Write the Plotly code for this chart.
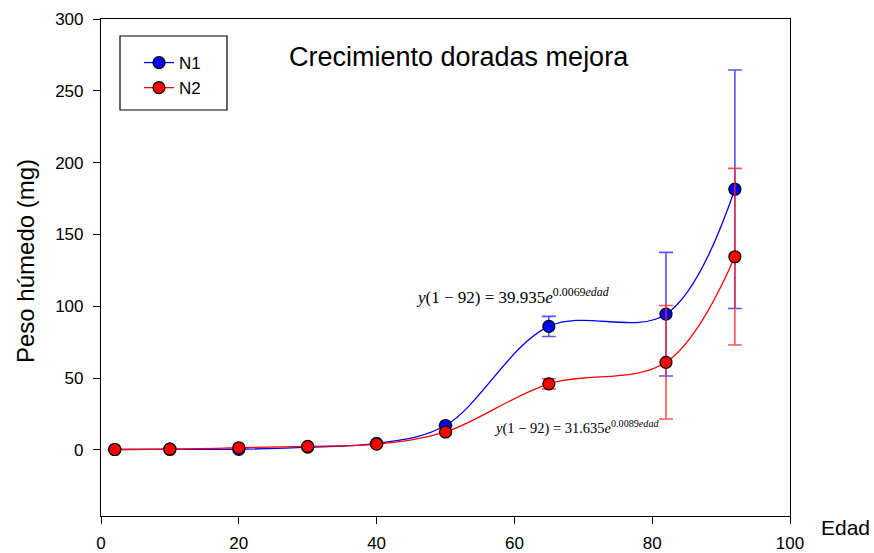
import plotly.graph_objects as go

edad = [2, 10, 20, 30, 40, 50, 65, 82, 92]
n1 = [0.3, 0.5, 0.4, 2.0, 4.5, 17, 86, 94.5, 181.5]
n1_err = [0, 0, 0, 0, 0, 0, 7, 43, 83]
n2 = [0.3, 0.5, 1.5, 2.5, 4.0, 12.5, 46, 61, 134.5]
n2_err = [0, 0, 0, 0, 0, 0, 3.5, 39.5, 61.5]
x_ticks = [0, 20, 40, 60, 80, 100]
y_ticks = [0, 50, 100, 150, 200, 250, 300]

fig = go.Figure()
fig.add_trace(go.Scatter(
    x=edad, y=n1, name="N1", mode="lines+markers",
    line=dict(color="blue", width=1.3, shape="spline", smoothing=1.0),
    marker=dict(color="blue", size=12, line=dict(color="black", width=1.2)),
    error_y=dict(type="data", array=n1_err, visible=True,
                 color="rgba(40,40,255,0.8)", thickness=1.6, width=7),
))
fig.add_trace(go.Scatter(
    x=edad, y=n2, name="N2", mode="lines+markers",
    line=dict(color="red", width=1.3, shape="spline", smoothing=1.0),
    marker=dict(color="red", size=12, line=dict(color="black", width=1.2)),
    error_y=dict(type="data", array=n2_err, visible=True,
                 color="rgba(255,40,40,0.8)", thickness=1.6, width=7),
))

axis_common = dict(showline=True, linecolor="black", linewidth=1.2, mirror=True,
                   ticks="outside", ticklen=7, tickcolor="black", showgrid=False,
                   zeroline=False, automargin=False,
                   tickfont=dict(family="Liberation Sans, Arial", size=17, color="black"))
fig.update_xaxes(range=[0, 100], tickvals=x_ticks, ticklabelstandoff=4, **axis_common)
fig.update_yaxes(range=[-46, 300], tickvals=y_ticks, ticklabelstandoff=6, **axis_common)

PL, PR, PT, PB = 101, 790, 19, 516
def px(x): return (x - PL) / (PR - PL)
def py(y): return 1 - (y - PT) / (PB - PT)

fig.update_layout(
    width=874, height=553,
    margin=dict(l=PL, r=874 - PR, t=PT, b=553 - PB),
    plot_bgcolor="white", paper_bgcolor="white",
    font=dict(family="Liberation Sans, Arial", color="black"),
    showlegend=True,
    legend=dict(x=px(139), y=py(45), xanchor="left", yanchor="top",
                borderwidth=0, bgcolor="rgba(0,0,0,0)",
                font=dict(size=17), tracegroupgap=0),
    shapes=[dict(type="rect", xref="paper", yref="paper",
                 x0=px(120), x1=px(227), y0=py(110), y1=py(36),
                 line=dict(color="black", width=1.2), fillcolor="rgba(0,0,0,0)")],
    annotations=[
        dict(text="Crecimiento doradas mejora", x=px(459), y=py(57), xref="paper", yref="paper",
             showarrow=False, font=dict(size=27), xanchor="center", yanchor="middle"),
        dict(text="Peso húmedo (mg)", x=px(25), y=py(261), xref="paper", yref="paper",
             showarrow=False, textangle=-90, font=dict(size=24), xanchor="center", yanchor="middle"),
        dict(text="Edad", x=px(845), y=py(527), xref="paper", yref="paper",
             showarrow=False, font=dict(size=21), xanchor="center", yanchor="middle"),
        dict(text="<i>y</i>(1 − 92) = 39.935<i>e</i><sup>0.0069<i>edad</i></sup>",
             x=px(512), y=py(296), xref="paper", yref="paper", showarrow=False,
             font=dict(family="Liberation Serif, Times New Roman", size=17),
             xanchor="center", yanchor="middle"),
        dict(text="<i>y</i>(1 − 92) = 31.635<i>e</i><sup>0.0089<i>edad</i></sup>",
             x=px(576), y=py(427), xref="paper", yref="paper", showarrow=False,
             font=dict(family="Liberation Serif, Times New Roman", size=14.5),
             xanchor="center", yanchor="middle"),
    ],
)

fig.write_html("out.html")
